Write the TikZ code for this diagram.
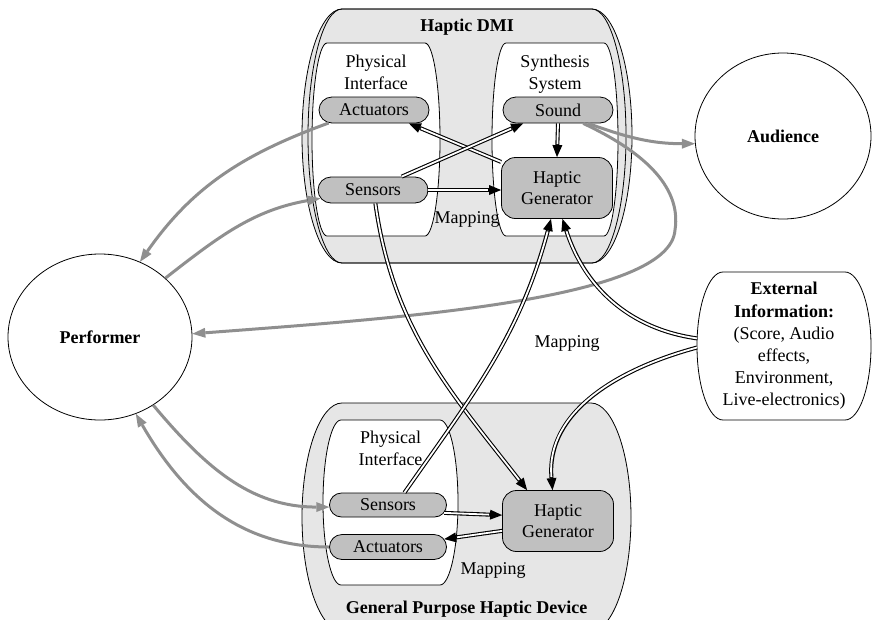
\documentclass[tikz,border=0pt]{standalone}
\usepackage{fontspec}
\setmainfont{Liberation Serif}
\usetikzlibrary{arrows.meta,positioning,shapes.geometric,shapes.misc,calc}
\definecolor{clfill}{HTML}{E6E6E6}
\definecolor{ndfill}{HTML}{C0C0C0}
\definecolor{fbgray}{HTML}{8F8F8F}
\newcommand\diafont{\fontsize{18}{21.5}\selectfont}
\newcommand\capsule[3][]{%
  \path[#1] let \p1=(#2.north west), \p2=(#2.south east), \n1={#3} in
    (\x1+\n1,\y1) -- (\x2-\n1,\y1)
    .. controls (\x2-0.45*\n1,\y1) and (\x2,0.775*\y1+0.225*\y2) .. (\x2,0.5*\y1+0.5*\y2)
    .. controls (\x2,0.225*\y1+0.775*\y2) and (\x2-0.45*\n1,\y2) .. (\x2-\n1,\y2)
    -- (\x1+\n1,\y2)
    .. controls (\x1+0.45*\n1,\y2) and (\x1,0.225*\y1+0.775*\y2) .. (\x1,0.5*\y1+0.5*\y2)
    .. controls (\x1,0.775*\y1+0.225*\y2) and (\x1+0.45*\n1,\y1) .. cycle;}

\begin{document}
\begin{tikzpicture}[
  x=1pt, y=1pt, font=\diafont, line width=0.8pt,
  box/.style={inner sep=0pt, outer sep=0pt},
  part/.style={rounded rectangle, draw, fill=ndfill, minimum width=110pt, minimum height=26pt,
    inner sep=0pt},
  gen/.style={rectangle, rounded corners=14pt, draw, fill=ndfill, minimum width=111pt,
    minimum height=61pt, inner sep=0pt, align=center},
  agent/.style={ellipse, draw, inner sep=0pt, font=\diafont\bfseries},
  head/.style={inner sep=0pt, font=\diafont\bfseries},
  title/.style={inner sep=0pt, align=center},
  feedback/.style={fbgray, line width=3pt, -{Triangle[length=13pt, width=10pt, line width=0pt]}},
  signal/.style={draw=black, line width=4pt, -{Triangle[length=12pt, width=10pt, line width=0pt]},
    postaction={draw=white, line width=1.8pt, -, shorten >=13pt}}
]
\useasboundingbox (0,0) rectangle (873,-619);
\clip (0,0) rectangle (873,-619);

\node[box, minimum width=330pt, minimum height=254pt] (dmi) at (467,-136) {};
\node[box, minimum width=318pt, minimum height=254pt] (dmiin) at (467,-136) {};
\capsule[draw, fill=clfill]{dmi}{40pt}
\capsule[draw]{dmiin}{34pt}
\node[box, minimum width=329pt, minimum height=228pt] (gpd) at (466.5,-517) {};
\capsule[draw, fill=clfill]{gpd}{40pt}

\node[box, minimum width=128pt, minimum height=193pt] (pif1) at (376,-139.5) {};
\capsule[draw, fill=white]{pif1}{15pt}
\node[box, minimum width=126pt, minimum height=193pt] (syn) at (555,-139.5) {};
\capsule[draw, fill=white]{syn}{14pt}
\node[box, minimum width=135pt, minimum height=165pt] (pif2) at (390.5,-502.5) {};
\capsule[draw, fill=white]{pif2}{18pt}

\node[head, below=10pt of dmi.north] (dmihead) {Haptic DMI};
\node[head, above=13pt of gpd.south] (gpdhead) {General Purpose Haptic Device};
\node[title, below=12pt of pif1.north] (pif1title) {Physical\\Interface};
\node[title, below=12pt of syn.north] (syntitle) {Synthesis\\System};
\node[title, below=11pt of pif2.north] (pif2title) {Physical\\Interface};

\node[part] (act1) at (374,-110) {Actuators};
\node[part] (sens1) at (373,-190) {Sensors};
\node[part] (sound) at (558,-110) {Sound};
\node[gen] (gen1) at (557,-188) {Haptic\\Generator};
\node[part, minimum width=117pt, minimum height=24pt] (sens2) at (388,-505) {Sensors};
\node[part, minimum width=117pt, minimum height=25pt] (act2) at (388,-547) {Actuators};
\node[gen] (gen2) at (558,-521) {Haptic\\Generator};

\node[agent, minimum width=184pt, minimum height=166pt] (perf) at (100,-337) {Performer};
\node[agent, minimum width=176pt, minimum height=166pt] (aud) at (783,-136) {Audience};
\node[box, minimum width=174pt, minimum height=148pt, align=center,
  font=\fontsize{18}{22.2}\selectfont] (ext) at (784,-346)
  {\textbf{External}\\\textbf{Information:}\\(Score, Audio\\effects,\\Environment,\\Live-electronics)};
\capsule[draw]{ext}{26pt}

\node (map1) at (467,-219) {Mapping};
\node (map2) at (567,-343) {Mapping};
\node (map3) at (493,-570) {Mapping};

\draw[feedback] (act1.196) to[out=200, in=55] (perf.62);
\draw[feedback] (perf.42) to[out=38, in=190] (sens1.189);
\draw[feedback] (sound.-24) to[out=-20, in=180] (aud.185);
\draw[feedback] (sound.-28) .. controls (640,-150) and (682,-185) .. (675,-230)
  .. controls (670,-300) and (400,-318) .. (perf.2);
\draw[feedback] (perf.-52) to[out=-50, in=180] (sens2.182);
\draw[feedback] (act2.180) to[out=180, in=-60] (perf.-65);

\draw[signal] (gen1.155) -- (act1.-21);
\draw[signal] (sens1.25) -- (sound.201);
\draw[signal] (sens1.east) -- (sens1.east -| gen1.west);
\draw[signal] (sound.south) -- (gen1.north);
\draw[signal] (sens1.-80) to[out=-82, in=128] (gen2.135);
\draw[signal] (sens2.37) to[out=55, in=-105] (gen1.-101);
\draw[signal] (ext.175) to[out=172, in=-72] (gen1.-80);
\draw[signal] (ext.181) to[out=195, in=95] (gen2.100);
\draw[signal] (sens2.-8) -- (gen2.174);
\draw[signal] (gen2.190) -- (act2.8);
\end{tikzpicture}
\end{document}
